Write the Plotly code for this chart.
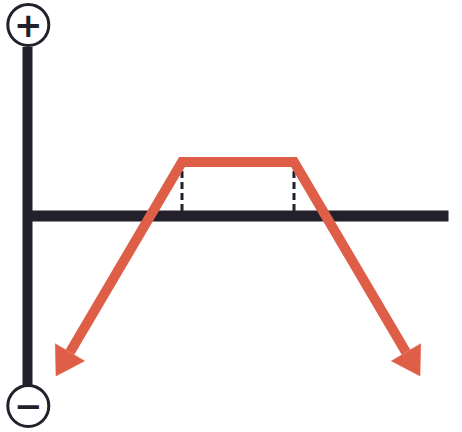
import math
import plotly.graph_objects as go

# Payoff profile (conceptual units: price on x, profit/loss on y)
price = [2.85, 15.45, 26.65, 39.25]
payoff = [-16.0, 5.4, 5.4, -16.0]
# strikes marked with dashed guides
strikes = [15.45, 26.65]
strike_payoff = [5.4, 5.4]
# axis extents
x_axis_end = 42.1
y_axis_top = 16.9
y_axis_bottom = -16.9
sign_y = [19.1, -19.0]
sign_text = ["+", "\u2212"]

ORANGE = "#DE5E47"
DARK = "#231F2B"

fig = go.Figure()

# axes
fig.add_trace(go.Scatter(x=[0, 0], y=[y_axis_bottom, y_axis_top], mode="lines",
                         line=dict(color=DARK, width=10), hoverinfo="skip"))
fig.add_trace(go.Scatter(x=[0, x_axis_end], y=[0, 0], mode="lines",
                         line=dict(color=DARK, width=11), hoverinfo="skip"))

# dashed strike guides
for k, p in zip(strikes, strike_payoff):
    fig.add_trace(go.Scatter(x=[k, k], y=[0.5, p - 0.5], mode="lines",
                             line=dict(color=DARK, width=3, dash="7px,4px"),
                             hoverinfo="skip"))

# arrowheads geometry (derived from data)
L = 2.75   # arrowhead length (units)
HW = 1.7   # half width

def head(tip, prev):
    dx, dy = tip[0] - prev[0], tip[1] - prev[1]
    n = math.hypot(dx, dy)
    ux, uy = dx / n, dy / n
    bx, by = tip[0] - ux * L, tip[1] - uy * L
    px, py = -uy, ux
    return (bx, by), [tip[0], bx + px * HW, bx - px * HW, tip[0]], [tip[1], by + py * HW, by - py * HW, tip[1]]

b0, hx0, hy0 = head((price[0], payoff[0]), (price[1], payoff[1]))
b1, hx1, hy1 = head((price[-1], payoff[-1]), (price[-2], payoff[-2]))

lx = [b0[0]] + price[1:-1] + [b1[0]]
ly = [b0[1]] + payoff[1:-1] + [b1[1]]
fig.add_trace(go.Scatter(x=lx, y=ly, mode="lines",
                         line=dict(color=ORANGE, width=10), hoverinfo="skip"))
for hx, hy in [(hx0, hy0), (hx1, hy1)]:
    fig.add_trace(go.Scatter(x=hx, y=hy, mode="lines", fill="toself",
                             fillcolor=ORANGE, line=dict(color=ORANGE, width=0.5),
                             hoverinfo="skip"))

# +/- circles
for yy, t in zip(sign_y, sign_text):
    fig.add_shape(type="circle", xref="x", yref="y",
                  x0=0.08 - 2.05, x1=0.08 + 2.05, y0=yy - 2.05, y1=yy + 2.05,
                  line=dict(color=DARK, width=3), fillcolor="white", layer="above")
    fig.add_annotation(x=0.08, y=yy, text="<b>" + t + "</b>", showarrow=False,
                       font=dict(family="DejaVu Sans", size=34, color=DARK),
                       xanchor="center", yanchor="middle", yshift=0)

fig.update_layout(
    width=462, height=432,
    margin=dict(l=0, r=0, t=0, b=0),
    paper_bgcolor="white", plot_bgcolor="white",
    showlegend=False,
    xaxis=dict(range=[-2.75, 43.45], visible=False, fixedrange=True),
    yaxis=dict(range=[-21.6, 21.6], visible=False, fixedrange=True),
)

fig.write_html("out.html", config={"displayModeBar": False},
               post_script="document.body.style.margin='0';document.body.style.overflow='hidden';")
